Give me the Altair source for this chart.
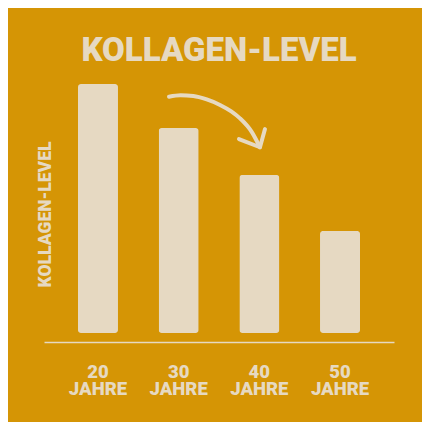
import altair as alt
import pandas as pd

BG = "#D59505"
CREAM = "#E6D9C2"
FONT = "Roboto"

ages = ["20", "30", "40", "50"]
unit = "JAHRE"
levels = [100, 82.3, 63.5, 41.0]

# decorative arrow (fraction of plot width, level units)
arrow_x = [0.3571, 0.3900, 0.4266, 0.4650, 0.5029, 0.5350, 0.5600, 0.5934, 0.6171]
arrow_y = [94.9, 95.5, 95.2, 93.8, 91.6, 89.0, 86.2, 80.8, 74.6]
head_x = [0.5571, 0.6171, 0.6314]
head_y = [77.9, 74.6, 81.9]

bars_df = pd.DataFrame({"age": [f"{a} {unit}" for a in ages], "level": levels})
arrow_df = pd.DataFrame({"ax": arrow_x, "ay": arrow_y, "i": range(len(arrow_x))})
head_df = pd.DataFrame({"ax": head_x, "ay": head_y, "i": range(len(head_x))})

yscale = alt.Scale(domain=[0, 100], nice=False, zero=True)

bars = alt.Chart(bars_df).mark_bar(color=CREAM, cornerRadius=3).encode(
    x=alt.X(
        "age:N",
        sort=None,
        scale=alt.Scale(paddingInner=0.504, paddingOuter=0.421),
        axis=alt.Axis(
            title=None,
            labelExpr="split(datum.label, ' ')",
            labelAngle=0,
            labelFont=FONT,
            labelFontWeight=900,
            labelFontSize=18.5,
            labelLineHeight=17,
            labelColor=CREAM,
            labelPadding=20,
            labelBaseline="top",
            ticks=False,
            domain=True,
            domainColor=CREAM,
            domainWidth=1.5,
            offset=9,
        ),
    ),
    y=alt.Y(
        "level:Q",
        scale=yscale,
        axis=alt.Axis(
            title="KOLLAGEN-LEVEL",
            titleFont=FONT,
            titleFontWeight=900,
            titleFontSize=17.5,
            titleColor=CREAM,
            titleX=1,
            titleY=130,
            titleAngle=270,
            titleAlign="center",
            titleBaseline="middle",
            labels=False,
            ticks=False,
            domain=False,
            grid=False,
        ),
    ),
)

arrow = alt.Chart(arrow_df).mark_line(
    color=CREAM, strokeWidth=4, strokeCap="round", interpolate="monotone"
).encode(
    x=alt.X("ax:Q", scale=alt.Scale(domain=[0, 1], nice=False, zero=False), axis=None),
    y=alt.Y("ay:Q", scale=yscale),
    order="i:Q",
)

head = alt.Chart(head_df).mark_line(
    color=CREAM, strokeWidth=4, strokeCap="round", strokeJoin="round"
).encode(
    x=alt.X("ax:Q", scale=alt.Scale(domain=[0, 1], nice=False, zero=False), axis=None),
    y=alt.Y("ay:Q", scale=yscale),
    order="i:Q",
)

chart = (
    alt.layer(bars, arrow, head)
    .resolve_scale(x="independent")
    .properties(
        width=350,
        height=249,
        autosize=alt.AutoSizeParams(type="none"),
        padding={"left": 36, "top": 76, "right": 28, "bottom": 89},
        background=BG,
        title=alt.TitleParams(
            "KOLLAGEN-LEVEL",
            font=FONT,
            fontWeight=900,
            fontSize=33,
            color=CREAM,
            anchor="middle",
            baseline="alphabetic",
            frame="group",
            offset=23,
            dy=33,
        ),
    )
    .configure_view(stroke=None)
)

chart.save("out.html", embed_options={"renderer": "svg", "actions": False})
